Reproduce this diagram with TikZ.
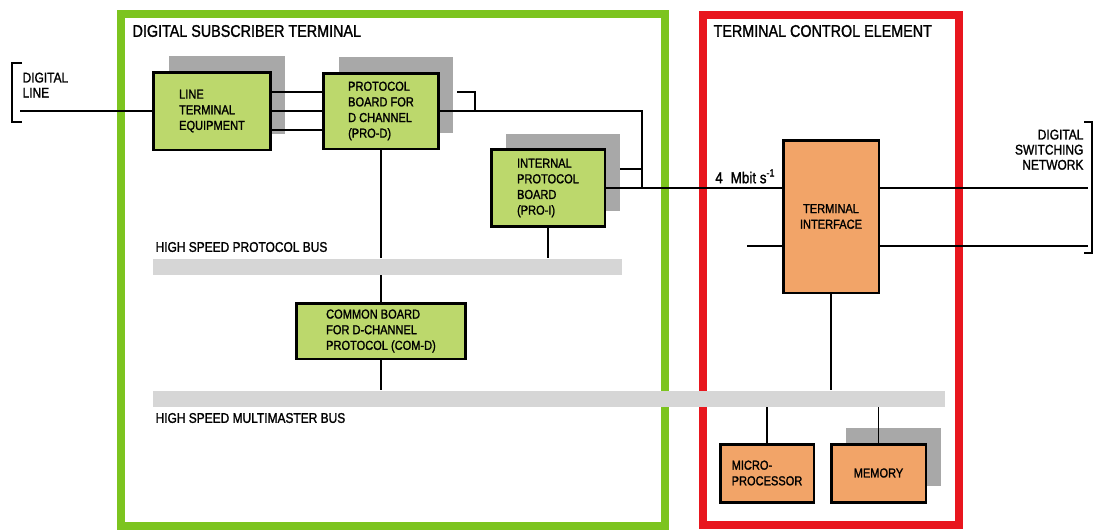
\documentclass[tikz,border=0pt]{standalone}
\usepackage{fontspec}
\setmainfont[FakeStretch=0.85,FakeBold=1.4]{Liberation Sans}
\usetikzlibrary{calc,shadows}
\definecolor{framegreen}{HTML}{7CC41F}
\definecolor{framered}{HTML}{E8161E}
\definecolor{boardgreen}{HTML}{BCD86C}
\definecolor{boardorange}{HTML}{F2A468}
\definecolor{busgray}{HTML}{D6D6D6}
\definecolor{shadegray}{HTML}{A8A8A8}
\newcommand\boxfont{\fontsize{7.4}{8.9}\selectfont}
\newcommand\headfont{\fontsize{9.6}{11}\selectfont}
\newcommand\busfont{\fontsize{8}{8.6}\selectfont}

\begin{document}
\begin{tikzpicture}[x=.02cm,y=-.02cm,line width=.7pt,
  board/.style={draw,line width=1.7pt,fill=boardgreen,font=\boxfont,align=left,inner sep=0pt},
  ctrl/.style={board,fill=boardorange,align=center},
  shd/.style={general shadow={fill=shadegray,draw=none,shadow xshift=.3cm,shadow yshift=.32cm}},
  bus/.style={fill=busgray,inner sep=0pt,minimum height=.32cm},
  lbl/.style={inner sep=0pt,font=\busfont}]
\useasboundingbox (0,0) rectangle (1096,529);
% frames
\draw[framegreen,line width=4.5pt] (121,14) rectangle (665,526);
\draw[framered,line width=5.1pt] (703,15) rectangle (959,525);
\node[lbl,font=\headfont,anchor=west] (dst) at (132,31) {DIGITAL SUBSCRIBER TERMINAL};
\node[lbl,font=\headfont,anchor=west] (tce) at (713,31) {TERMINAL CONTROL ELEMENT};
% boards
\node[board,shd,minimum width=2.34cm,minimum height=1.56cm] (lte) at (212,111) {LINE\\TERMINAL\\EQUIPMENT};
\node[board,shd,minimum width=2.3cm,minimum height=1.52cm] (prod) at (381,111) {PROTOCOL\\BOARD FOR\\D CHANNEL\\(PRO-D)};
\node[board,shd,minimum width=2.28cm,minimum height=1.54cm] (proi) at (548,188) {INTERNAL\\PROTOCOL\\BOARD\\(PRO-I)};
\node[board,minimum width=3.4cm,minimum height=1.12cm] (comd) at (381,331) {COMMON BOARD\\FOR D-CHANNEL\\PROTOCOL (COM-D)};
\node[ctrl,minimum width=1.92cm,minimum height=3.06cm] (ti) at (831,216.5) {TERMINAL\\INTERFACE};
\node[ctrl,align=left,minimum width=1.88cm,minimum height=1.16cm] (mp) at (767,473) {MICRO-\\PROCESSOR};
\node[ctrl,shd,minimum width=1.9cm,minimum height=1.16cm] (mem) at (878.5,473) {MEMORY};
% buses
\node[bus,minimum width=9.38cm] (pbus) at (387.5,266.5) {};
\node[bus,minimum width=15.84cm] (mbus) at (549,398.5) {};
\node[lbl,anchor=west] (pbtxt) at (155,247) {HIGH SPEED PROTOCOL BUS};
\node[lbl,anchor=west] (mbtxt) at (155,418) {HIGH SPEED MULTIMASTER BUS};
% outside
\node[lbl,align=left,anchor=north west] (dltxt) at (22,72) {DIGITAL\\LINE};
\node[lbl,align=right,anchor=north east] (dsntxt) at (1084,129) {DIGITAL\\SWITCHING\\NETWORK};
\draw (22,63) -| (12,122) -- (22,122);
\draw (1084,122) -| (1092,253) -- (1084,253);
\coordinate (dl) at (20,111); \coordinate (pd) at (457,92); \coordinate (pi) at (620,169);
\coordinate (j) at (642,188); \coordinate (tin) at (747,246);
\coordinate (dsn1) at (1088,188); \coordinate (dsn2) at (1088,246);
% links
\draw (dl) -- (lte.west);
\foreach \dy in {-19,0,19} \draw ($(lte.east)+(0,\dy)$) -- ($(prod.west)+(0,\dy)$);
\draw (pd) -| ($(pd)+(18,19)$); \draw (prod.east) -| (j); \draw (pi) -- (pi -| j);
\draw (proi.east) -- (proi.east -| ti.west);
\node[lbl,font=\fontsize{9}{10}\selectfont,anchor=south east] (rate) at (776,184) {4\enspace Mbit s\textsuperscript{-1}};
\draw (ti.east |- dsn1) -- (dsn1); \draw (tin) -- (tin -| ti.west) (ti.east |- dsn2) -- (dsn2);
\draw (prod.south) -- (prod.south |- pbus.north) (comd.north) -- (comd.north |- pbus.south);
\draw (proi.south) -- (proi.south |- pbus.north);
\draw (comd.south) -- (comd.south |- mbus.north);
\draw (ti.south) -- (ti.south |- mbus.north);
\foreach \n in {mp,mem} \draw (\n.north) -- (\n.north |- mbus.south);
\end{tikzpicture}
\end{document}
